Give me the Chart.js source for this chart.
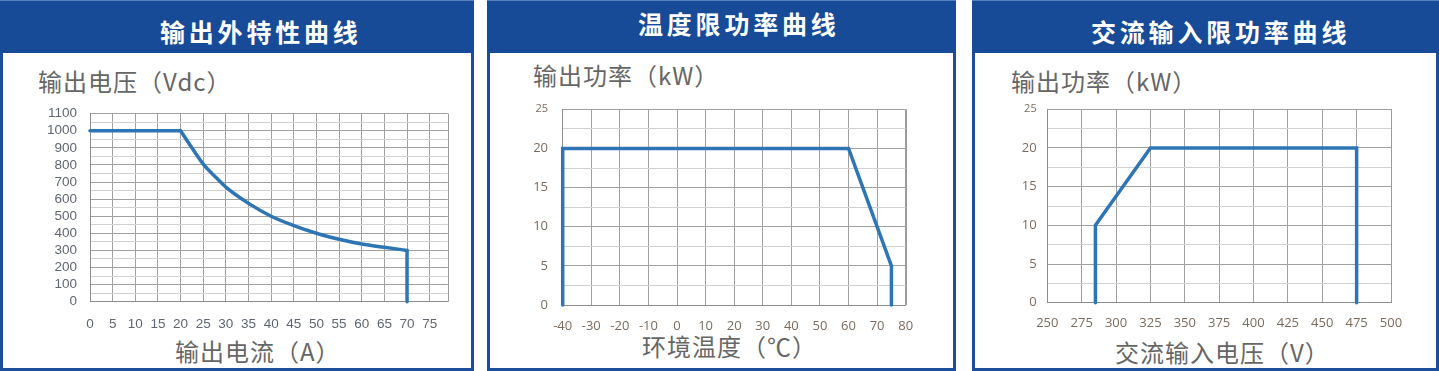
<!DOCTYPE html>
<html>
<head>
<meta charset="utf-8">
<script src="https://cdn.jsdelivr.net/npm/chart.js@4/dist/chart.umd.min.js"></script>
<style>
  body { margin: 0; width: 1439px; height: 371px; background: #fff; position: relative; overflow: hidden; font-family: "Noto Sans CJK SC", sans-serif; }
  .panel { position: absolute; top: 0; height: 371px; box-sizing: border-box; border: 3px solid #1d4e9b; border-top: none; background: #fff; }
  .cabecera { position: absolute; top: 0; height: 53px; background: #174a97; border-top: 1px solid #5a7fbd; box-sizing: border-box; }
  .titulo { position: absolute; color: #fff; font-weight: bold; font-size: 25px; letter-spacing: 3.8px; line-height: 30px; white-space: nowrap; }
  .eje { position: absolute; color: #666; font-size: 24px; letter-spacing: 1px; line-height: 30px; white-space: nowrap; }
  canvas { position: absolute; }
</style>
</head>
<body>
<div class="panel" style="left:0;width:474px"></div>
<div class="panel" style="left:487px;width:469px"></div>
<div class="panel" style="left:972px;width:467px"></div>
<div class="cabecera" style="left:0;width:474px"></div>
<div class="cabecera" style="left:487px;width:469px"></div>
<div class="cabecera" style="left:972px;width:467px"></div>

<div class="titulo" style="left:160px;top:16px">输出外特性曲线</div>
<div class="titulo" style="left:638px;top:8px">温度限功率曲线</div>
<div class="titulo" style="left:1091px;top:16px">交流输入限功率曲线</div>

<div class="eje" style="left:38px;top:66px">输出电压（Vdc）</div>
<div class="eje" style="left:533px;top:60px">输出功率（kW）</div>
<div class="eje" style="left:1011px;top:66px">输出功率（kW）</div>

<div class="eje" style="left:175px;top:336px">输出电流（A）</div>
<div class="eje" style="left:642px;top:331px">环境温度（℃）</div>
<div class="eje" style="left:1115px;top:337px">交流输入电压（V）</div>

<canvas id="grafico-salida" style="left:3px;top:55px" width="468" height="310"></canvas>
<canvas id="grafico-temperatura" style="left:490px;top:55px" width="463" height="310"></canvas>
<canvas id="grafico-ac" style="left:975px;top:55px" width="461" height="310"></canvas>

<script>
// curva de salida: corriente (A) vs voltaje (Vdc)
const corrienteX = [0, 20, 22.5, 25, 27.5, 30, 35, 40, 45, 50, 55, 60, 65, 70, 70];
const voltajeY = [1000, 1000, 900, 805, 735, 670, 575, 500, 445, 400, 365, 337, 318, 300, 0];
const ticksCorriente = [0, 5, 10, 15, 20, 25, 30, 35, 40, 45, 50, 55, 60, 65, 70, 75];
const ticksVoltaje = [0, 50, 100, 150, 200, 250, 300, 350, 400, 450, 500, 550, 600, 650, 700, 750, 800, 850, 900, 950, 1000, 1050, 1100];

// potencia limitada por temperatura
const temperaturaX = [-40, -40, 60, 75, 75];
const potenciaTempY = [0, 20, 20, 5, 0];
const ticksTemperatura = [-40, -30, -20, -10, 0, 10, 20, 30, 40, 50, 60, 70, 80];

// potencia limitada por voltaje de entrada AC
const voltajeAcX = [285, 285, 325, 475, 475];
const potenciaAcY = [0, 10, 20, 20, 0];
const ticksVoltajeAc = [250, 275, 300, 325, 350, 375, 400, 425, 450, 475, 500];

const ticksPotencia = [0, 2.5, 5, 7.5, 10, 12.5, 15, 17.5, 20, 22.5, 25];

const azulLinea = "#2e75b6";

// linea del borde derecho del area del grafico
const bordeDerecho = {
    id: 'bordeDerecho',
    afterDraw(chart) {
        const a = chart.chartArea;
        const c = chart.ctx;
        c.save();
        c.strokeStyle = "#9a9a9a";
        c.lineWidth = 1;
        c.beginPath();
        c.moveTo(Math.round(a.right) + 0.5, a.top);
        c.lineTo(Math.round(a.right) + 0.5, a.bottom);
        c.stroke();
        c.restore();
    }
};

function Puntos(xs, ys, desde, hasta) {
    let puntos = [];
    for (let i = desde; i <= hasta; i++) {
        puntos.push({ x: xs[i], y: ys[i] });
    }
    return puntos;
}

function Tramo(puntos, suave) {
    return {
        data: puntos,
        borderColor: azulLinea,
        borderWidth: 3.5,
        pointRadius: 0,
        tension: 0,
        cubicInterpolationMode: suave ? 'monotone' : 'default',
        borderCapStyle: 'round',
        clip: false,
    };
}

function CrearGrafico(id, datasets, cfg) {
    const ctx = document.getElementById(id);
    return new Chart(ctx, {
        type: 'line',
        data: { datasets: datasets },
        options: {
            responsive: false,
            animation: false,
            layout: { padding: { top: cfg.padTop, right: cfg.padRight, left: 0, bottom: 0 } },
            plugins: { legend: { display: false }, tooltip: { enabled: false } },
            scales: {
                x: {
                    type: 'linear',
                    min: cfg.xMin,
                    max: cfg.xMax,
                    afterBuildTicks: sc => { sc.ticks = cfg.xTicks.map(v => ({ value: v })); },
                    afterFit: sc => { sc.height = cfg.altoX; },
                    grid: { color: "#a0a0a0", drawTicks: false },
                    border: { color: "#8c8c8c" },
                    ticks: {
                        autoSkip: false,
                        maxRotation: 0,
                        padding: cfg.padTickX,
                        color: cfg.colorTicks,
                        font: { family: cfg.fuente, size: cfg.tamFuente },
                    }
                },
                y: {
                    min: 0,
                    max: cfg.yMax,
                    afterBuildTicks: sc => { sc.ticks = cfg.yTicks.map(v => ({ value: v })); },
                    afterFit: sc => { sc.width = cfg.anchoY; },
                    grid: {
                        drawTicks: false,
                        color: c => (c.tick && c.tick.value % cfg.yMayor === 0) ? "#a0a0a0" : "#d2d2d2",
                    },
                    border: { color: "#8c8c8c" },
                    ticks: {
                        autoSkip: false,
                        padding: cfg.padTickY,
                        color: cfg.colorTicks,
                        font: c => ({ family: cfg.fuente, size: (c.tick && c.tick.value === cfg.yMax && cfg.topChico) ? cfg.tamFuente - 2 : cfg.tamFuente }),
                        callback: v => (v % cfg.yMayor === 0) ? v : '',
                    }
                }
            }
        },
        plugins: [bordeDerecho]
    });
}

// tramo plano, curva de potencia constante y caida final
CrearGrafico("grafico-salida", [
    Tramo(Puntos(corrienteX, voltajeY, 0, 1), false),
    Tramo(Puntos(corrienteX, voltajeY, 1, 13), true),
    Tramo(Puntos(corrienteX, voltajeY, 13, 14), false),
], {
    xMin: 0, xMax: 79, xTicks: ticksCorriente,
    yMax: 1100, yTicks: ticksVoltaje, yMayor: 100,
    padTop: 58.6, padRight: 23.2, anchoY: 87, altoX: 63.3,
    padTickX: 14, padTickY: 13,
    colorTicks: "#5f6573", fuente: "Liberation Sans", tamFuente: 13.5, topChico: false,
});

CrearGrafico("grafico-temperatura", [
    Tramo(Puntos(temperaturaX, potenciaTempY, 0, temperaturaX.length - 1), false),
], {
    xMin: -40, xMax: 80, xTicks: ticksTemperatura,
    yMax: 25, yTicks: ticksPotencia, yMayor: 5,
    padTop: 54.3, padRight: 47.3, anchoY: 72.7, altoX: 60,
    padTickX: 13, padTickY: 14.7,
    colorTicks: "#7d6b5d", fuente: "Open Sans", tamFuente: 13, topChico: true,
});

CrearGrafico("grafico-ac", [
    Tramo(Puntos(voltajeAcX, potenciaAcY, 0, voltajeAcX.length - 1), false),
], {
    xMin: 250, xMax: 500, xTicks: ticksVoltajeAc,
    yMax: 25, yTicks: ticksPotencia, yMayor: 5,
    padTop: 54.3, padRight: 45, anchoY: 72.3, altoX: 62.3,
    padTickX: 12.5, padTickY: 10.6,
    colorTicks: "#7d6b5d", fuente: "Open Sans", tamFuente: 13, topChico: true,
});
</script>
</body>
</html>
